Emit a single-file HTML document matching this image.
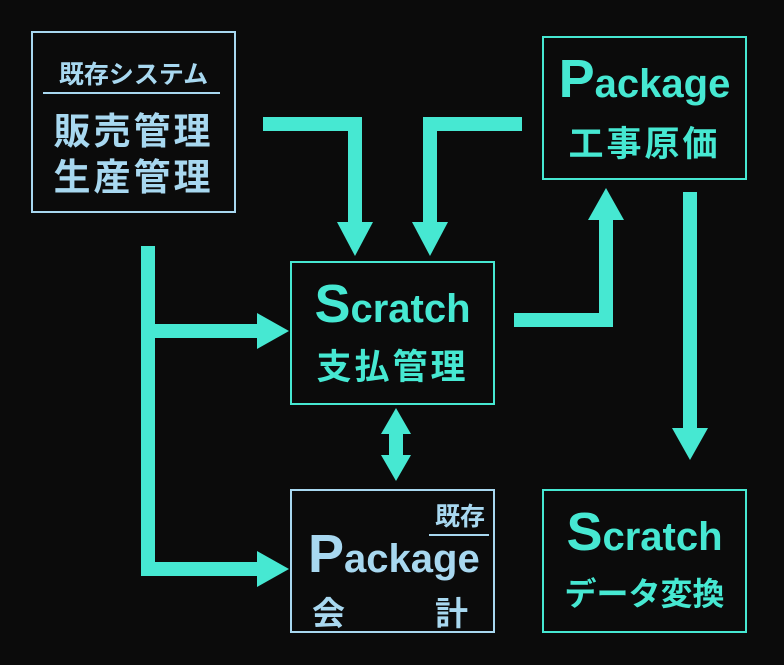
<!DOCTYPE html>
<html><head><meta charset="utf-8"><style>
body{margin:0;width:784px;height:665px;background:#0b0b0b;overflow:hidden;position:relative;font-family:"Liberation Sans","Noto Sans CJK JP",sans-serif;font-weight:bold}
.b{position:absolute;box-sizing:border-box;border:2px solid #46e8d2;color:#46e8d2;text-align:center}
.lb{border-color:#a8d8f0;color:#a8d8f0}
.t{position:absolute;white-space:nowrap;font-weight:bold}
</style></head><body>
<svg width="784" height="665" style="position:absolute;left:0;top:0" fill="#46e8d2" stroke="none">
<g stroke="#46e8d2" stroke-width="14" fill="none" stroke-linejoin="miter">
<polyline points="263,124 355,124 355,225"/>
<polyline points="522,124 430,124 430,225"/>
<polyline points="148,246 148,575"/>
<polyline points="141,331 260,331"/>
<polyline points="141,569 260,569"/>
<polyline points="514,320 606,320 606,215"/>
<polyline points="690,192 690,430"/>
<polyline points="396,430 396,460"/>
</g>
<polygon points="337,222 373,222 355,256"/>
<polygon points="412,222 448,222 430,256"/>
<polygon points="257,313 257,349 289,331"/>
<polygon points="257,551 257,587 289,569"/>
<polygon points="588,220 624,220 606,188"/>
<polygon points="672,428 708,428 690,460"/>
<polygon points="381,434 411,434 396,408"/>
<polygon points="381,455 411,455 396,481"/>
</svg>
<div class="b lb" style="left:31px;top:31px;width:205px;height:182px">
<div class="t" style="left:0;right:0;top:22px;font-size:25px">既存システム</div>
<div style="position:absolute;left:10px;right:14px;top:59px;height:2px;background:#a8d8f0"></div>
<div class="t" style="left:0;right:0;top:76px;font-size:37px;line-height:46px;letter-spacing:3px">販売管理<br>生産管理</div>
</div>
<div class="b" style="left:542px;top:36px;width:205px;height:144px">
<div class="t" style="left:0;right:0;top:10px;font-size:40px"><span style="font-size:54px">P</span>ackage</div>
<div class="t" style="left:0;right:0;top:78px;font-size:35px;letter-spacing:3px">工事原価</div>
</div>
<div class="b" style="left:290px;top:261px;width:205px;height:144px">
<div class="t" style="left:0;right:0;top:10px;font-size:40px"><span style="font-size:54px">S</span>cratch</div>
<div class="t" style="left:0;right:0;top:76px;font-size:35px;letter-spacing:3px">支払管理</div>
</div>
<div class="b lb" style="left:290px;top:489px;width:205px;height:144px">
<div class="t" style="right:8px;top:6px;font-size:25px">既存</div>
<div style="position:absolute;left:137px;right:4px;top:43px;height:2px;background:#a8d8f0"></div>
<div class="t" style="left:16px;top:32px;font-size:40px"><span style="font-size:54px">P</span>ackage</div>
<div class="t" style="left:20px;top:96px;font-size:33px">会</div>
<div class="t" style="left:143px;top:96px;font-size:33px">計</div>
</div>
<div class="b" style="left:542px;top:489px;width:205px;height:144px">
<div class="t" style="left:0;right:0;top:10px;font-size:40px"><span style="font-size:54px">S</span>cratch</div>
<div class="t" style="left:0;right:0;top:78px;font-size:32px">データ変換</div>
</div>
</body></html>
